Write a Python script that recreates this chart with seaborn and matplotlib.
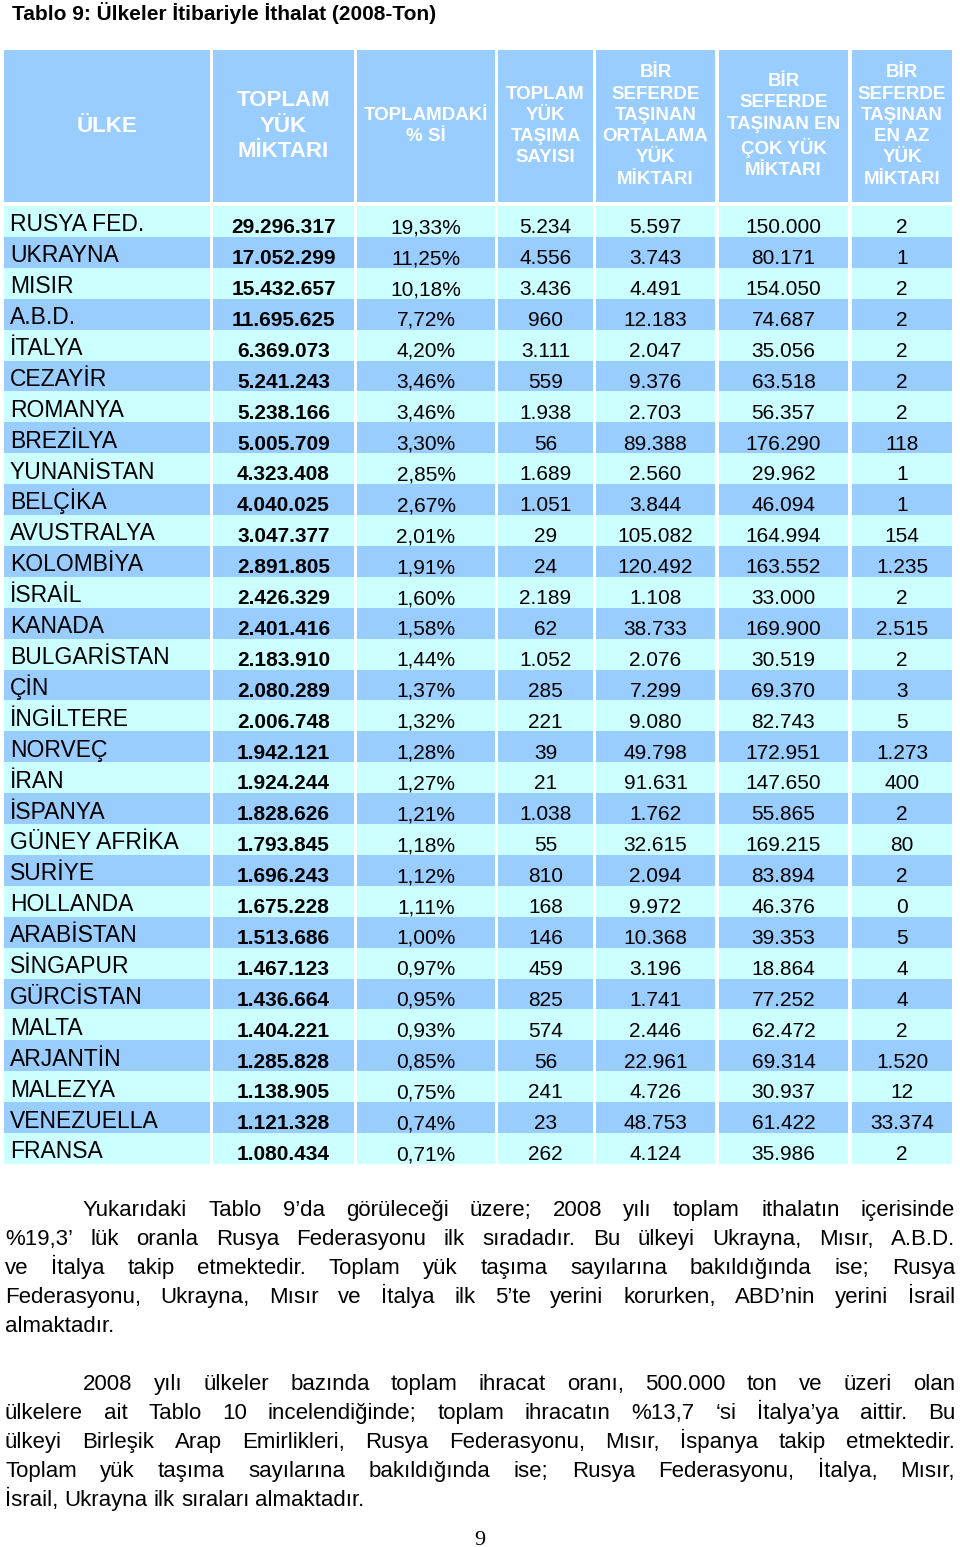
import matplotlib
matplotlib.use("Agg")
import matplotlib.pyplot as plt
from matplotlib.colors import ListedColormap
from matplotlib.font_manager import FontProperties
import numpy as np
import seaborn as sns

# --- table data (2008, ton) ---
countries = [
    "RUSYA FED.", "UKRAYNA", "MISIR", "A.B.D.", "İTALYA", "CEZAYİR", "ROMANYA",
    "BREZİLYA", "YUNANİSTAN", "BELÇİKA", "AVUSTRALYA", "KOLOMBİYA", "İSRAİL",
    "KANADA", "BULGARİSTAN", "ÇİN", "İNGİLTERE", "NORVEÇ", "İRAN", "İSPANYA",
    "GÜNEY AFRİKA", "SURİYE", "HOLLANDA", "ARABİSTAN", "SİNGAPUR", "GÜRCİSTAN",
    "MALTA", "ARJANTİN", "MALEZYA", "VENEZUELLA", "FRANSA",
]
total_tons = [
    29296317, 17052299, 15432657, 11695625, 6369073, 5241243, 5238166,
    5005709, 4323408, 4040025, 3047377, 2891805, 2426329, 2401416, 2183910,
    2080289, 2006748, 1942121, 1924244, 1828626, 1793845, 1696243, 1675228,
    1513686, 1467123, 1436664, 1404221, 1285828, 1138905, 1121328, 1080434,
]
share_pct = [
    19.33, 11.25, 10.18, 7.72, 4.20, 3.46, 3.46, 3.30, 2.85, 2.67, 2.01, 1.91,
    1.60, 1.58, 1.44, 1.37, 1.32, 1.28, 1.27, 1.21, 1.18, 1.12, 1.11, 1.00,
    0.97, 0.95, 0.93, 0.85, 0.75, 0.74, 0.71,
]
trip_counts = [
    5234, 4556, 3436, 960, 3111, 559, 1938, 56, 1689, 1051, 29, 24, 2189, 62,
    1052, 285, 221, 39, 21, 1038, 55, 810, 168, 146, 459, 825, 574, 56, 241,
    23, 262,
]
avg_load = [
    5597, 3743, 4491, 12183, 2047, 9376, 2703, 89388, 2560, 3844, 105082,
    120492, 1108, 38733, 2076, 7299, 9080, 49798, 91631, 1762, 32615, 2094,
    9972, 10368, 3196, 1741, 2446, 22961, 4726, 48753, 4124,
]
max_load = [
    150000, 80171, 154050, 74687, 35056, 63518, 56357, 176290, 29962, 46094,
    164994, 163552, 33000, 169900, 30519, 69370, 82743, 172951, 147650, 55865,
    169215, 83894, 46376, 39353, 18864, 77252, 62472, 69314, 30937, 61422,
    35986,
]
min_load = [
    2, 1, 2, 2, 2, 2, 2, 118, 1, 1, 154, 1235, 2, 2515, 2, 3, 5, 1273, 400, 2,
    80, 2, 0, 5, 4, 4, 2, 1520, 12, 33374, 2,
]

headers = [
    "ÜLKE",
    "TOPLAM\nYÜK\nMİKTARI",
    "TOPLAMDAKİ\n% Sİ",
    "TOPLAM\nYÜK\nTAŞIMA\nSAYISI",
    "BİR\nSEFERDE\nTAŞINAN\nORTALAMA\nYÜK\nMİKTARI",
    "BİR\nSEFERDE\nTAŞINAN EN\nÇOK YÜK\nMİKTARI",
    "BİR\nSEFERDE\nTAŞINAN\nEN AZ\nYÜK\nMİKTARI",
]

title = "Tablo 9: Ülkeler İtibariyle İthalat (2008-Ton)"

para1 = [
    "Yukarıdaki Tablo 9’da görüleceği üzere; 2008 yılı toplam ithalatın içerisinde",
    "%19,3’ lük oranla Rusya Federasyonu ilk sıradadır. Bu ülkeyi Ukrayna, Mısır, A.B.D.",
    "ve İtalya takip etmektedir. Toplam yük taşıma sayılarına bakıldığında ise; Rusya",
    "Federasyonu, Ukrayna, Mısır ve İtalya ilk 5’te yerini korurken, ABD’nin yerini İsrail",
    "almaktadır.",
]
para2 = [
    "2008 yılı ülkeler bazında toplam ihracat oranı, 500.000 ton ve üzeri olan",
    "ülkelere ait Tablo 10 incelendiğinde; toplam ihracatın %13,7 ‘si İtalya’ya aittir. Bu",
    "ülkeyi Birleşik Arap Emirlikleri, Rusya Federasyonu, Mısır, İspanya takip etmektedir.",
    "Toplam yük taşıma sayılarına bakıldığında ise; Rusya Federasyonu, İtalya, Mısır,",
    "İsrail, Ukrayna ilk sıraları almaktadır.",
]
page_number = "9"


def tr_int(v):
    return f"{v:,}".replace(",", ".")


def tr_pct(v):
    return f"{v:.2f}".replace(".", ",") + "%"


W, H = 960, 1547
sns.set_theme(style="white")
plt.rcParams["font.family"] = ["Liberation Sans", "DejaVu Sans"]
plt.rcParams["text.color"] = "black"

fig = plt.figure(figsize=(W / 100, H / 100), dpi=100)
fig.patch.set_facecolor("white")

# page axes in pixel units, for the free text
page = fig.add_axes([0, 0, 1, 1])
page.set_xlim(0, W)
page.set_ylim(H, 0)
page.axis("off")

col_edges = [(4, 210), (213, 354), (357, 495), (498, 593), (596, 715), (719, 848), (852, 952)]
head_top, head_bot = 50, 202
body_top, body_bot = 206, 1164
head_sizes = [16, 16, 13.5, 13.5, 13.5, 13.5, 13.5]
head_spacing = [1.3, 1.3, 1.33, 1.33, 1.33, 1.33, 1.33]

cmap = ListedColormap(["#CCFFFF", "#99CCFF"])


def px_axes(x0, y0, x1, y1):
    return fig.add_axes([x0 / W, 1 - y1 / H, (x1 - x0) / W, (y1 - y0) / H])


columns = [
    countries,
    [tr_int(v) for v in total_tons],
    [tr_pct(v) for v in share_pct],
    [tr_int(v) for v in trip_counts],
    [tr_int(v) for v in avg_load],
    [tr_int(v) for v in max_load],
    [tr_int(v) for v in min_load],
]
shade = (np.arange(len(countries)) % 2).reshape(-1, 1)

for c, (x0, x1) in enumerate(col_edges):
    hax = px_axes(x0, head_top, x1, head_bot)
    sns.heatmap([[1]], ax=hax, cmap=cmap, vmin=0, vmax=1, cbar=False,
                xticklabels=False, yticklabels=False, linewidths=0)
    hax.text(0.5, 0.5, headers[c], ha="center", va="center", multialignment="center",
             color="white", fontweight="bold", fontsize=head_sizes[c],
             linespacing=head_spacing[c])

    bax = px_axes(x0, body_top, x1, body_bot)
    sns.heatmap(shade, ax=bax, cmap=cmap, vmin=0, vmax=1, cbar=False,
                xticklabels=False, yticklabels=False, linewidths=0)
    for i, s in enumerate(columns[c]):
        if c == 0:
            bax.text(6 / (x1 - x0), i + 0.82, s, ha="left", va="baseline", fontsize=16.5)
        else:
            bax.text(0.5, i + 0.88, s, ha="center", va="baseline", fontsize=15,
                     fontweight="bold" if c == 1 else "normal")

page.text(12, 20, title, fontsize=15, fontweight="bold", ha="left", va="baseline")

# justified paragraphs, word by word
renderer = fig.canvas.get_renderer()
left, right, indent = 5, 955, 78


def widths(words, prop):
    return [renderer.get_text_width_height_descent(w, prop, ismath=False)[0] for w in words]


def space_width(prop):
    return (renderer.get_text_width_height_descent("a a", prop, False)[0]
            - renderer.get_text_width_height_descent("aa", prop, False)[0])


base = FontProperties(family=["Liberation Sans"], size=16)
need = 1.0
for para in (para1, para2):
    for k, line in enumerate(para[:-1]):
        ws = line.split()
        natural = sum(widths(ws, base)) + space_width(base) * (len(ws) - 1)
        avail = right - (left + indent if k == 0 else left)
        need = max(need, natural / (avail - 4))
psize = 16 / need
prop = FontProperties(family=["Liberation Sans"], size=psize)


def draw_para(lines, y0, step=29):
    for k, line in enumerate(lines):
        ws = line.split()
        x = left + indent if k == 0 else left
        y = y0 + k * step
        wl = widths(ws, prop)
        if k == len(lines) - 1:
            gap = space_width(prop)
        else:
            gap = (right - x - sum(wl)) / (len(ws) - 1)
        for w, wd in zip(ws, wl):
            page.text(x, y, w, fontproperties=prop, ha="left", va="baseline")
            x += wd + gap


draw_para(para1, 1216)
draw_para(para2, 1390)
page.text(480, 1545, page_number, fontsize=16, family=["Liberation Serif"],
          ha="center", va="baseline")

fig.savefig("out.png", dpi=100, facecolor="white")
